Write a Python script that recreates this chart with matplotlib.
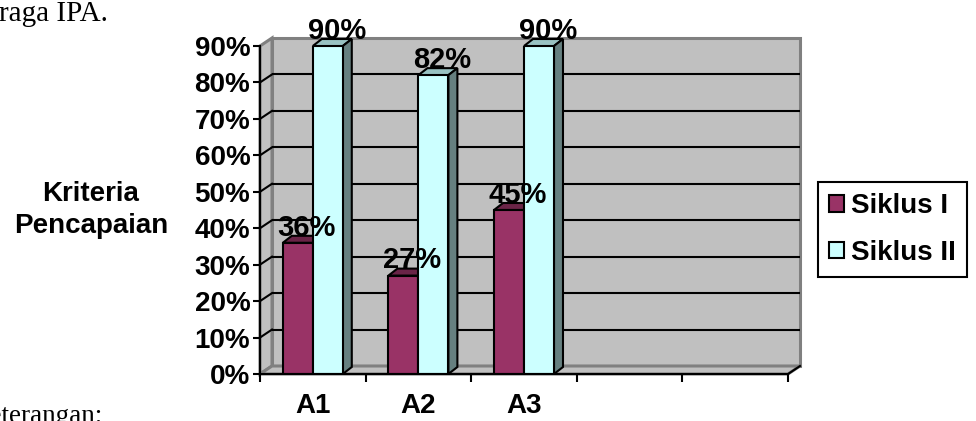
import matplotlib
matplotlib.use("Agg")
import matplotlib.pyplot as plt
from matplotlib.patches import Polygon

# ---- data -------------------------------------------------------------
categories = ["A1", "A2", "A3", "", ""]
siklus_1 = [0.36, 0.27, 0.45]
siklus_2 = [0.90, 0.82, 0.90]
series_names = ["Siklus I", "Siklus II"]
y_ticks = [0.0, 0.1, 0.2, 0.3, 0.4, 0.5, 0.6, 0.7, 0.8, 0.9]
y_tick_labels = ["0%", "10%", "20%", "30%", "40%", "50%", "60%", "70%", "80%", "90%"]
axis_title = "Kriteria\nPencapaian"
text_above = "raga IPA."
text_below = "Keterangan:"

# ---- styling ----------------------------------------------------------
W, H = 976, 421
SANS = "Liberation Sans"
SERIF = "Liberation Serif"
FS = 20
WALL = "#C0C0C0"
WALL_EDGE = "#808080"
COL_1 = ("#993366", "#6A2447", "#5A1E3C")   # front, top, side
COL_2 = ("#CCFFFF", "#99C2C2", "#668080")
LW = 1.5

fig = plt.figure(figsize=(W / 100, H / 100), dpi=100)
fig.patch.set_facecolor("white")
ax = fig.add_axes([260 / W, 47 / H, 528 / W, 328 / H])
n_slots = len(categories)
ymax = y_ticks[-1]
ax.set_xlim(0, n_slots)
ax.set_ylim(0, ymax)
ax.patch.set_visible(False)

# depth of the wall and of the bars, in data units
px_x = n_slots / 528.0
px_y = ymax / 328.0
dxw, dyw = 12 * px_x, 8 * px_y
dxb, dyb = 9 * px_x, 7 * px_y

# back wall, side wall and floor
ax.add_patch(Polygon([(dxw, dyw), (n_slots + dxw, dyw), (n_slots + dxw, ymax + dyw),
                      (dxw, ymax + dyw)], closed=True, facecolor=WALL,
                     edgecolor=WALL_EDGE, lw=2.2, zorder=0.5, clip_on=False))
ax.add_patch(Polygon([(0, 0), (dxw, dyw), (dxw, ymax + dyw), (0, ymax)], closed=True,
                     facecolor=WALL, edgecolor=WALL_EDGE, lw=2.2, zorder=0.6, clip_on=False))
ax.add_patch(Polygon([(0, 0), (n_slots, 0), (n_slots + dxw, dyw), (dxw, dyw)], closed=True,
                     facecolor=WALL, edgecolor=WALL_EDGE, lw=2.2, zorder=0.6, clip_on=False))
ax.plot([n_slots, n_slots + dxw], [0, dyw], color="black", lw=LW, zorder=0.7, clip_on=False)

# gridlines on the back wall, with their slant across the side wall
for v in y_ticks[1:-1]:
    ax.plot([dxw, n_slots + dxw], [v + dyw, v + dyw], color="black", lw=LW,
            zorder=1, clip_on=False, solid_capstyle="butt")
    ax.plot([0, dxw], [v, v + dyw], color="black", lw=LW, zorder=1, clip_on=False)

# 3-D bars
bar_w = 0.284
centers = [i + 0.5 for i in range(len(siklus_1))]
handles = []
for k, (vals, cols) in enumerate([(siklus_1, COL_1), (siklus_2, COL_2)]):
    lefts = [c - bar_w + k * bar_w for c in centers]
    z = 3 + 2 * k
    bars = ax.bar([l + bar_w / 2 for l in lefts], vals, width=bar_w,
                  color=cols[0], edgecolor="black", lw=LW, zorder=z + 1)
    handles.append(bars)
    for l, v in zip(lefts, vals):
        r = l + bar_w
        ax.add_patch(Polygon([(l, v), (l + dxb, v + dyb), (r + dxb, v + dyb), (r, v)],
                             closed=True, facecolor=cols[1], edgecolor="black",
                             lw=LW, zorder=z, clip_on=False))
        ax.add_patch(Polygon([(r, 0), (r + dxb, dyb), (r + dxb, v + dyb), (r, v)],
                             closed=True, facecolor=cols[2], edgecolor="black",
                             lw=LW, zorder=z, clip_on=False))
        ax.text(l + bar_w / 2 + dxb, v + 0.02, f"{v:.0%}", ha="center", va="baseline",
                fontsize=FS + 1, fontweight="bold", family=SANS, zorder=10, clip_on=False)

# axes, ticks and labels
for s in ("top", "right"):
    ax.spines[s].set_visible(False)
for s in ("left", "bottom"):
    ax.spines[s].set_linewidth(LW)
    ax.spines[s].set_zorder(8)
ax.set_yticks(y_ticks)
ax.set_yticklabels(y_tick_labels, fontsize=FS, fontweight="bold", family=SANS)
ax.tick_params(axis="y", direction="out", length=5, width=LW, pad=2)
ax.set_xticks(range(n_slots + 1))
ax.set_xticklabels([])
ax.tick_params(axis="x", which="major", direction="out", length=6, width=LW)
ax.set_xticks([i + 0.5 for i in range(n_slots)], minor=True)
ax.set_xticklabels(categories, minor=True, fontsize=FS, fontweight="bold", family=SANS)
ax.tick_params(axis="x", which="minor", length=0, pad=14)

fig.text(91 / W, 1 - 210 / H, axis_title, ha="center", va="center", fontsize=FS,
         fontweight="bold", family=SANS, linespacing=1.3)

leg = fig.legend([h.patches[0] for h in handles], series_names, loc="upper left",
                 bbox_to_anchor=(818 / W, 1 - 182 / H), borderaxespad=0,
                 prop={"family": SANS, "size": FS, "weight": "bold"},
                 handlelength=0.55, handleheight=0.55, handletextpad=0.25,
                 labelspacing=0.75, borderpad=0.4, fancybox=False, framealpha=1)
leg.get_frame().set_edgecolor("black")
leg.get_frame().set_linewidth(LW)

# surrounding document text
fig.text(-1 / W, 1 - 21 / H, text_above, ha="left", va="baseline", fontsize=21, family=SERIF)
fig.text(-30 / W, -2 / H, text_below, ha="left", va="baseline", fontsize=19.5, family=SERIF)

fig.savefig("out.png", dpi=100, facecolor="white")
